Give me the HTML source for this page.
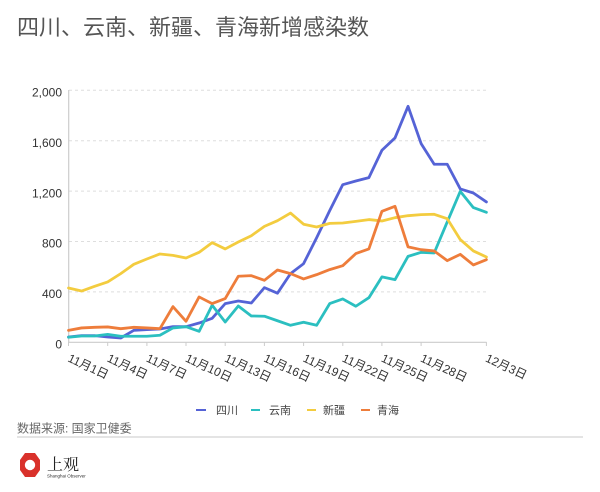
<!DOCTYPE html>
<html>
<head>
<meta charset="utf-8">
<style>
  html,body{margin:0;padding:0;background:#fff;}
  body{width:600px;height:492px;overflow:hidden;}
  svg{display:block;font-family:"Liberation Sans","Noto Sans CJK SC",sans-serif;}
</style>
</head>
<body>
<svg width="600" height="492" viewBox="0 0 600 492" xmlns="http://www.w3.org/2000/svg">
  <rect width="600" height="492" fill="#fff"/>
  <!-- Title -->
  <text x="17" y="35" font-size="22" fill="#555" font-family="Liberation Sans, Noto Sans CJK SC, sans-serif">四川、云南、新疆、青海新增感染数</text>

  <!-- gridlines -->
  <g stroke="#dedede" stroke-width="1" stroke-dasharray="3,3">
    <line x1="69" y1="291.9" x2="486" y2="291.9"/>
    <line x1="69" y1="241.5" x2="486" y2="241.5"/>
    <line x1="69" y1="191.1" x2="486" y2="191.1"/>
    <line x1="69" y1="140.7" x2="486" y2="140.7"/>
    <line x1="69" y1="90.3" x2="486" y2="90.3"/>
  </g>
  <!-- axes -->
  <line x1="68.7" y1="90" x2="68.7" y2="342.5" stroke="#ccc" stroke-width="1.2"/>
  <line x1="68" y1="342.3" x2="486.5" y2="342.3" stroke="#ccc" stroke-width="1.2"/>
  <g stroke="#ccc" stroke-width="1">
    <line x1="68.5" y1="342" x2="68.5" y2="346"/>
    <line x1="107.7" y1="342" x2="107.7" y2="346"/>
    <line x1="146.9" y1="342" x2="146.9" y2="346"/>
    <line x1="186.0" y1="342" x2="186.0" y2="346"/>
    <line x1="225.2" y1="342" x2="225.2" y2="346"/>
    <line x1="264.4" y1="342" x2="264.4" y2="346"/>
    <line x1="303.6" y1="342" x2="303.6" y2="346"/>
    <line x1="342.8" y1="342" x2="342.8" y2="346"/>
    <line x1="381.9" y1="342" x2="381.9" y2="346"/>
    <line x1="421.1" y1="342" x2="421.1" y2="346"/>
    <line x1="486.4" y1="342" x2="486.4" y2="346"/>
  </g>

  <!-- Y labels -->
  <g font-size="12" fill="#333" text-anchor="end">
    <text x="62" y="96.5">2,000</text>
    <text x="62" y="146.9">1,600</text>
    <text x="62" y="197.3">1,200</text>
    <text x="62" y="247.7">800</text>
    <text x="62" y="298.1">400</text>
    <text x="62" y="348.5">0</text>
  </g>

  <!-- X labels -->
  <g font-size="12" fill="#333">
    <text x="67" y="361" transform="rotate(25 67 361)">11月1日</text>
    <text x="106.2" y="361" transform="rotate(25 106.2 361)">11月4日</text>
    <text x="145.4" y="361" transform="rotate(25 145.4 361)">11月7日</text>
    <text x="184.5" y="361" transform="rotate(25 184.5 361)">11月10日</text>
    <text x="223.7" y="361" transform="rotate(25 223.7 361)">11月13日</text>
    <text x="262.9" y="361" transform="rotate(25 262.9 361)">11月16日</text>
    <text x="302.1" y="361" transform="rotate(25 302.1 361)">11月19日</text>
    <text x="341.3" y="361" transform="rotate(25 341.3 361)">11月22日</text>
    <text x="380.4" y="361" transform="rotate(25 380.4 361)">11月25日</text>
    <text x="419.6" y="361" transform="rotate(25 419.6 361)">11月28日</text>
    <text x="484.6" y="361" transform="rotate(25 484.6 361)">12月3日</text>
  </g>

  <!-- Series -->
  <g transform="translate(68.5,342.3) scale(13.06,-0.126)" fill="none" stroke-width="2.8" stroke-linejoin="round" stroke-linecap="round">
    <polyline vector-effect="non-scaling-stroke" stroke="#5563d6" points="0,42 1,53 2,53 3,42 4,34 5,95 6,101 7,106 8,124 9,124 10,153 11,190 12,307 13,328 14,312 15,434 16,390 17,545 18,624 19,830 20,1045 21,1251 22,1280 23,1307 24,1524 25,1622 26,1873 27,1577 28,1413 29,1413 30,1217 31,1185 32,1114"/>
    <polyline vector-effect="non-scaling-stroke" stroke="#2bbfc0" points="0,40 1,50 2,50 3,63 4,48 5,48 6,48 7,56 8,114 9,124 10,87 11,294 12,161 13,288 14,209 15,207 16,171 17,135 18,159 19,135 20,307 21,344 22,286 23,354 24,519 25,497 26,682 27,714 28,709 29,955 30,1198 31,1069 32,1032"/>
    <polyline vector-effect="non-scaling-stroke" stroke="#f3cc3f" points="0,431 1,407 2,444 3,479 4,545 5,619 6,661 7,701 8,690 9,669 10,714 11,791 12,741 13,796 14,846 15,920 16,965 17,1026 18,937 19,915 20,944 21,947 22,960 23,974 24,963 25,989 26,1005 27,1013 28,1016 29,981 30,815 31,725 32,677"/>
    <polyline vector-effect="non-scaling-stroke" stroke="#ee7d3b" points="0,95 1,114 2,119 3,122 4,108 5,119 6,114 7,108 8,283 9,167 10,360 11,307 12,347 13,524 14,529 15,492 16,574 17,545 18,503 19,537 20,577 21,608 22,704 23,741 24,1040 25,1079 26,757 27,735 28,725 29,648 30,698 31,614 32,656"/>
  </g>

  <!-- Legend -->
  <g stroke-width="2">
    <line x1="196" y1="410" x2="206" y2="410" stroke="#5563d6"/>
    <line x1="251" y1="410" x2="260" y2="410" stroke="#2bbfc0"/>
    <line x1="307" y1="410" x2="316" y2="410" stroke="#f3cc3f"/>
    <line x1="361" y1="410" x2="370" y2="410" stroke="#ee7d3b"/>
  </g>
  <g font-size="11" fill="#444">
    <text x="216" y="414">四川</text>
    <text x="269" y="414">云南</text>
    <text x="323" y="414">新疆</text>
    <text x="377" y="414">青海</text>
  </g>

  <!-- Source -->
  <text x="17" y="432.5" font-size="12" fill="#666">数据来源: 国家卫健委</text>
  <line x1="17" y1="437" x2="583" y2="437" stroke="#dcdcdc" stroke-width="1.5"/>

  <!-- Logo -->
  <polygon points="25,453 35,453 40,460 40,470 35,477 25,477 20,470 20,460" fill="#d9312b"/>
  <circle cx="30" cy="465" r="5.2" fill="#fff"/>
  <text x="47" y="470" font-size="16" fill="#222" font-family="Liberation Serif, Noto Serif CJK SC, serif">上观</text>
  <text x="47" y="477.5" font-size="4.5" fill="#333">Shanghai Observer</text>
</svg>
</body>
</html>
